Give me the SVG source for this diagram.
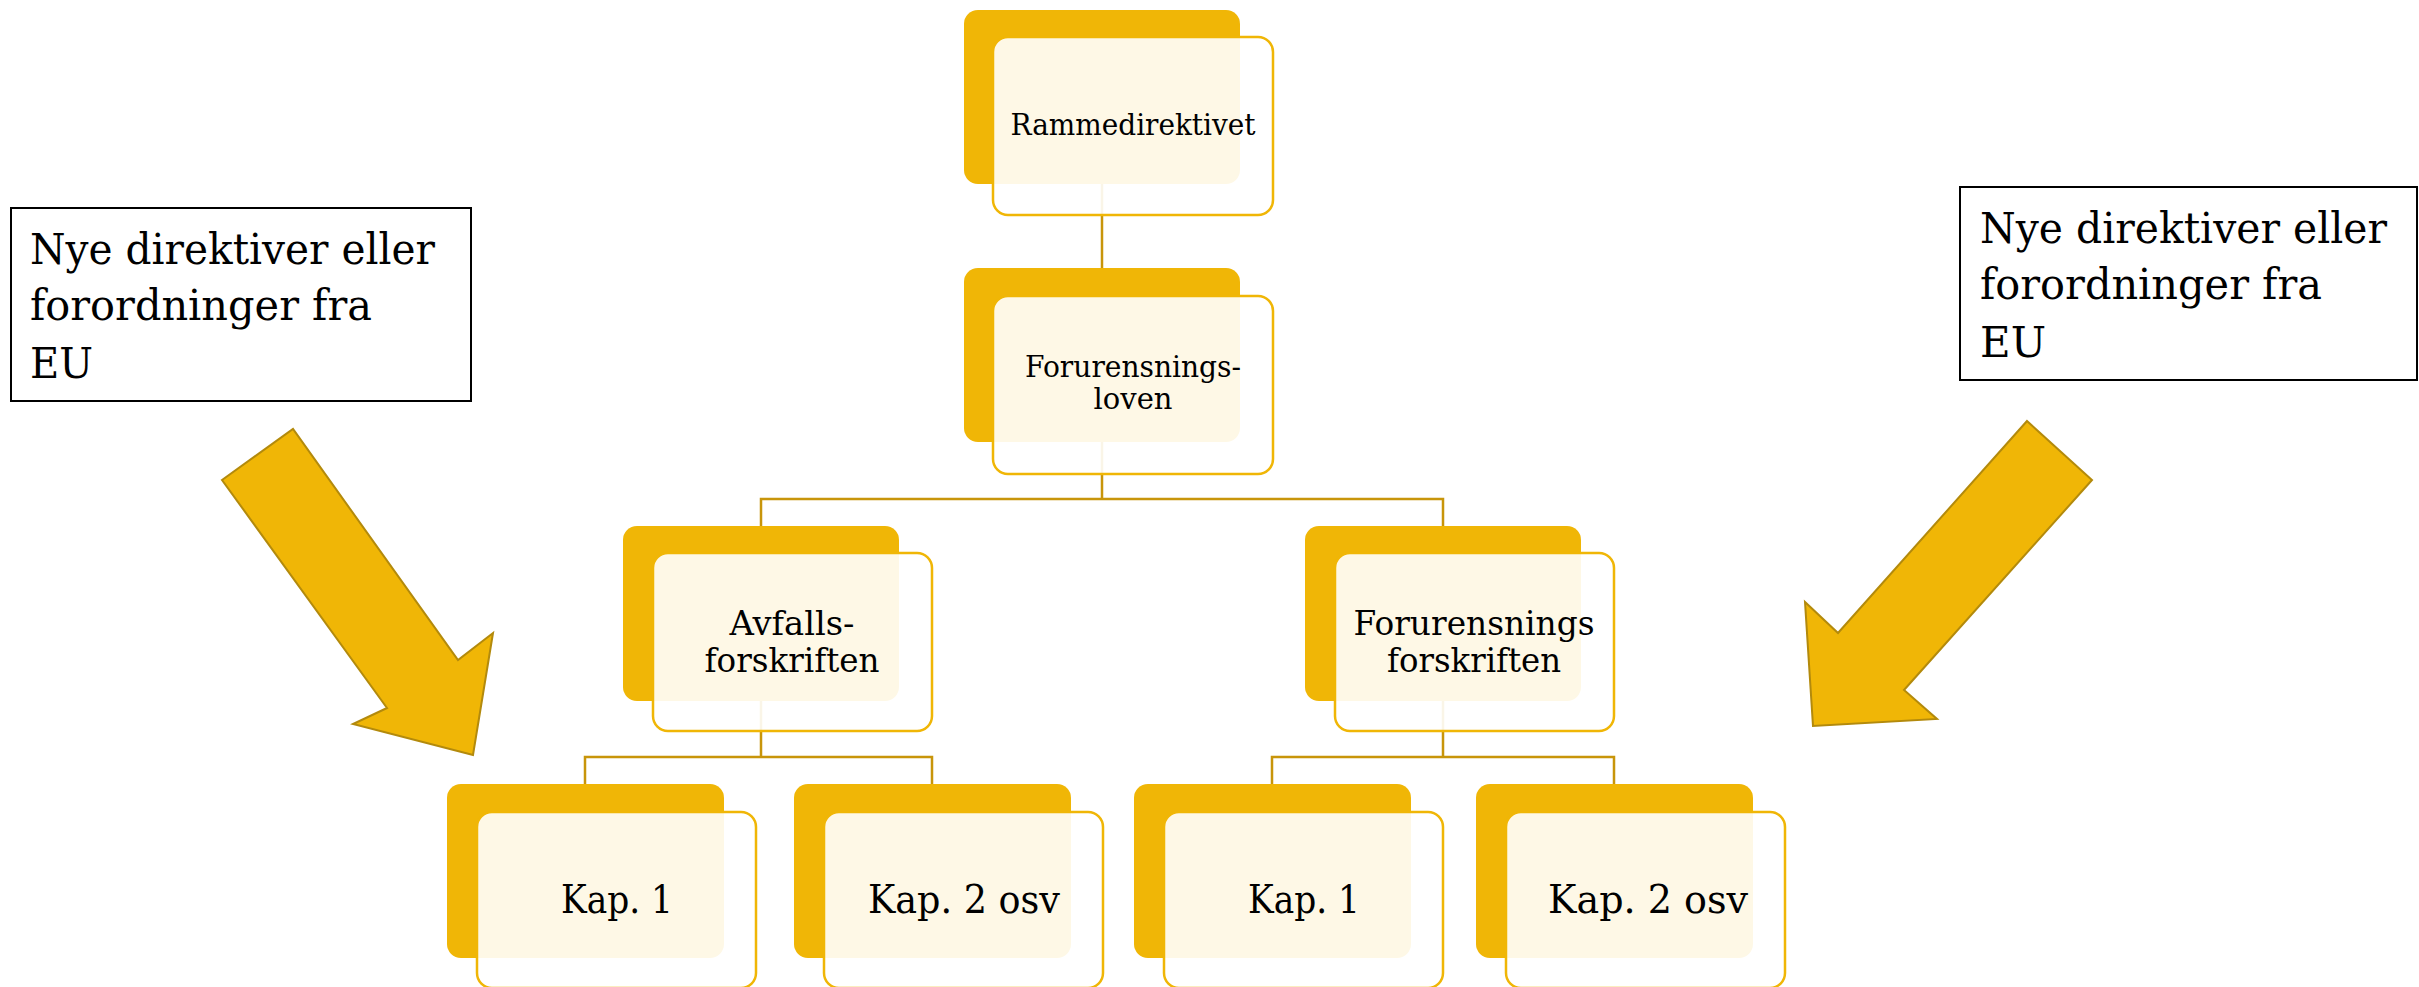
<svg xmlns="http://www.w3.org/2000/svg" width="2419" height="987" viewBox="0 0 2419 987">
<style>
.back{fill:#F0B606;}
.front{fill:#FFFFFF;fill-opacity:0.9;stroke:#F0B606;stroke-width:2.5;}
.conn{fill:none;stroke:#C8950A;stroke-width:2.5;}
.t{font-family:"DejaVu Serif","Liberation Serif",serif;fill:#000;text-anchor:middle;}
.t1{font-size:29px;}
.t3{font-size:34px;}
.t4{font-size:40px;}
.tb{font-family:"DejaVu Serif","Liberation Serif",serif;font-size:42px;fill:#000;}
.box{fill:#FFFFFF;stroke:#000;stroke-width:2;}
.arrow{fill:#F0B606;stroke:#B38A0C;stroke-width:2;stroke-linejoin:miter;}
</style>
<rect width="2419" height="987" fill="#FFFFFF"/>
<g id="connectors">
<path class="conn" d="M1102,184 V268"/>
<path class="conn" d="M1102,442 V499 M761,526 V499 H1443 V526"/>
<path class="conn" d="M761,701 V757 M585,784 V757 H932 V784"/>
<path class="conn" d="M1443,701 V757 M1272,784 V757 H1614 V784"/>
</g>
<g id="n-rammedirektivet">
<rect class="back" x="964" y="10" width="276" height="174" rx="14"/>
<rect class="front" x="993" y="37" width="280" height="178" rx="15"/>
<text class="t t1" x="1133" y="135" textLength="245" lengthAdjust="spacingAndGlyphs">Rammedirektivet</text>
</g>
<g id="n-forurensningsloven">
<rect class="back" x="964" y="268" width="276" height="174" rx="14"/>
<rect class="front" x="993" y="296" width="280" height="178" rx="15"/>
<text class="t t1" x="1133" y="377" textLength="216" lengthAdjust="spacingAndGlyphs">Forurensnings-</text>
<text class="t t1" x="1133" y="409">loven</text>
</g>
<g id="n-avfallsforskriften">
<rect class="back" x="623" y="526" width="276" height="175" rx="14"/>
<rect class="front" x="653" y="553" width="279" height="178" rx="15"/>
<text class="t t3" x="792" y="635" textLength="125" lengthAdjust="spacingAndGlyphs">Avfalls-</text>
<text class="t t3" x="792" y="672" textLength="175" lengthAdjust="spacingAndGlyphs">forskriften</text>
</g>
<g id="n-forurensningsforskriften">
<rect class="back" x="1305" y="526" width="276" height="175" rx="14"/>
<rect class="front" x="1335" y="553" width="279" height="178" rx="15"/>
<text class="t t3" x="1474" y="635" textLength="241" lengthAdjust="spacingAndGlyphs">Forurensnings</text>
<text class="t t3" x="1474" y="672" textLength="174" lengthAdjust="spacingAndGlyphs">forskriften</text>
</g>
<g id="n-kap1-a">
<rect class="back" x="447" y="784" width="277" height="174" rx="14"/>
<rect class="front" x="477" y="812" width="279" height="176" rx="15"/>
<text class="t t4" x="617" y="913" textLength="112" lengthAdjust="spacingAndGlyphs">Kap. 1</text>
</g>
<g id="n-kap2-a">
<rect class="back" x="794" y="784" width="277" height="174" rx="14"/>
<rect class="front" x="824" y="812" width="279" height="176" rx="15"/>
<text class="t t4" x="964" y="913" textLength="192" lengthAdjust="spacingAndGlyphs">Kap. 2 osv</text>
</g>
<g id="n-kap1-b">
<rect class="back" x="1134" y="784" width="277" height="174" rx="14"/>
<rect class="front" x="1164" y="812" width="279" height="176" rx="15"/>
<text class="t t4" x="1304" y="913" textLength="112" lengthAdjust="spacingAndGlyphs">Kap. 1</text>
</g>
<g id="n-kap2-b">
<rect class="back" x="1476" y="784" width="277" height="174" rx="14"/>
<rect class="front" x="1506" y="812" width="279" height="176" rx="15"/>
<text class="t t4" x="1648" y="913" textLength="200" lengthAdjust="spacingAndGlyphs">Kap. 2 osv</text>
</g>
<g id="eu-left">
<rect class="box" x="11" y="208" width="460" height="193"/>
<text class="tb" x="30" y="264" textLength="405" lengthAdjust="spacingAndGlyphs">Nye direktiver eller</text>
<text class="tb" x="30" y="320" textLength="342" lengthAdjust="spacingAndGlyphs">forordninger fra</text>
<text class="tb" x="30" y="378" textLength="63" lengthAdjust="spacingAndGlyphs">EU</text>
</g>
<g id="eu-right">
<rect class="box" x="1960" y="187" width="457" height="193"/>
<text class="tb" x="1980" y="243" textLength="407" lengthAdjust="spacingAndGlyphs">Nye direktiver eller</text>
<text class="tb" x="1980" y="299" textLength="342" lengthAdjust="spacingAndGlyphs">forordninger fra</text>
<text class="tb" x="1980" y="357" textLength="66" lengthAdjust="spacingAndGlyphs">EU</text>
</g>
<g id="arrow-left">
<polygon class="arrow" points="222,480 293,429 458,660 493,633 473,755 353,724 387,708"/>
</g>
<g id="arrow-right">
<polygon class="arrow" points="2027,421 2092,480 1904,690 1937,719 1813,726 1805,602 1838,633"/>
</g>
</svg>
